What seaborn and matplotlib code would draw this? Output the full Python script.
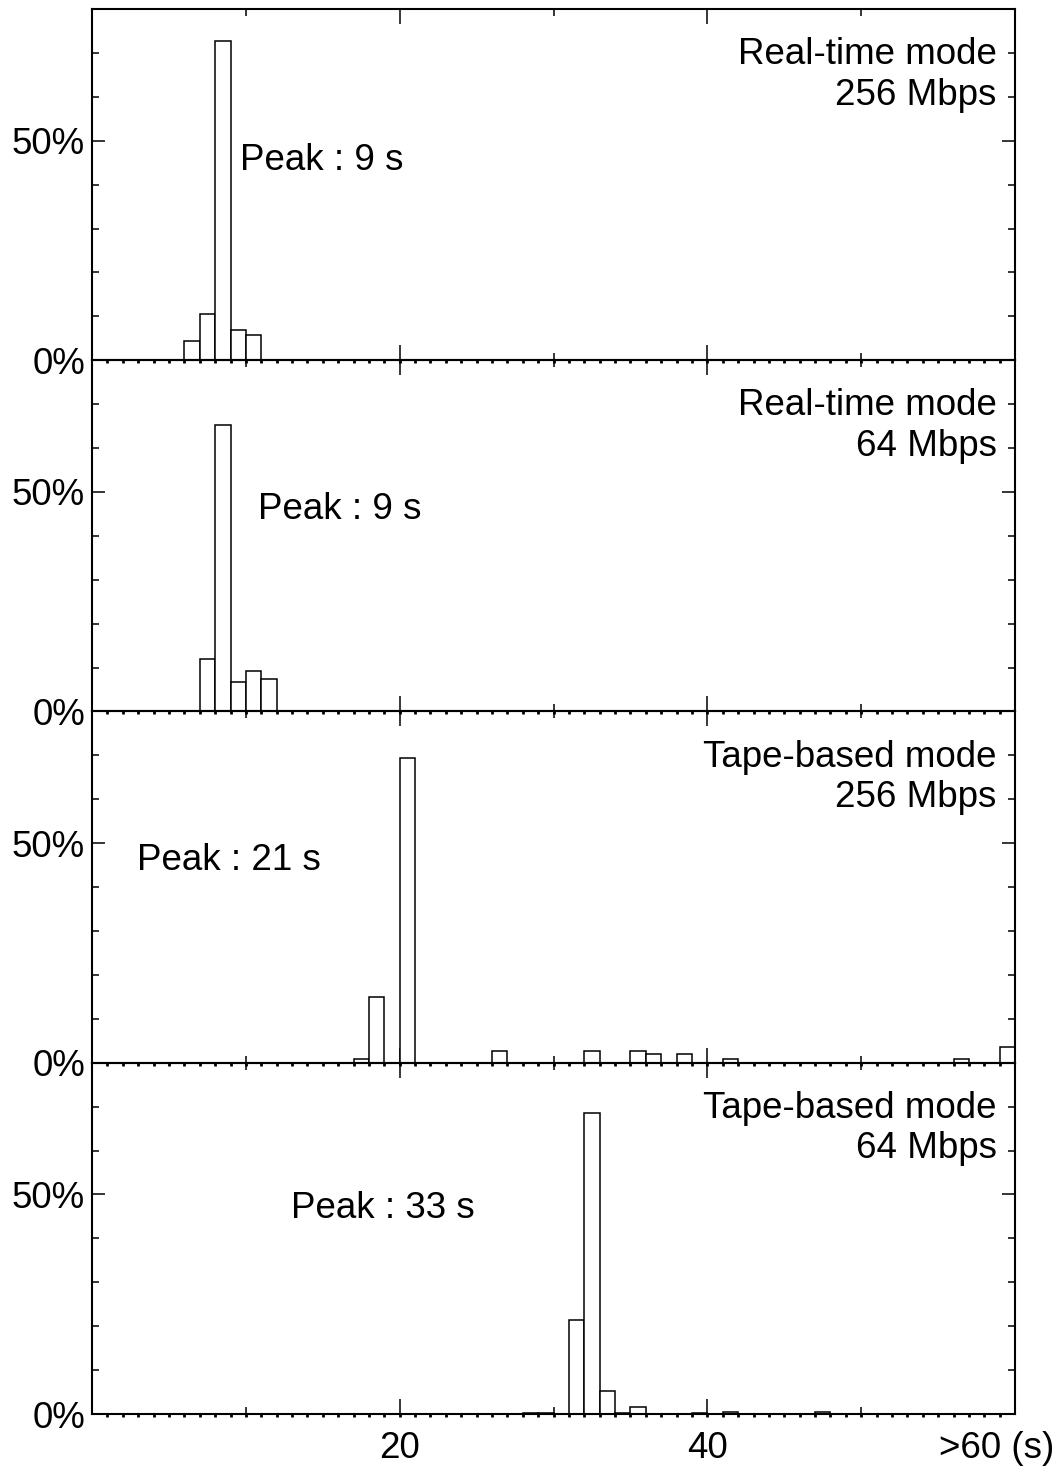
import numpy as np
import pandas as pd
import matplotlib
matplotlib.use("Agg")
import matplotlib.pyplot as plt
from matplotlib.transforms import ScaledTranslation
import seaborn as sns

# Histogram bins (left edge, seconds) and share of jobs (%) per panel
rt256_bins = [6, 7, 8, 9, 10]
rt256_pct = [4.3, 10.5, 72.8, 6.9, 5.8]

rt64_bins = [7, 8, 9, 10, 11]
rt64_pct = [12.0, 65.3, 6.8, 9.3, 7.4]

tape256_bins = [17, 18, 20, 26, 32, 35, 36, 38, 41, 56, 59]
tape256_pct = [0.8, 15.0, 69.3, 2.7, 2.7, 2.7, 1.9, 1.9, 0.8, 0.8, 3.6]

tape64_bins = [28, 29, 31, 32, 33, 34, 35, 39, 41, 47]
tape64_pct = [0.2, 0.2, 21.3, 68.6, 5.2, 0.3, 1.6, 0.3, 0.4, 0.4]

mode_labels = ["Real-time mode\n256 Mbps", "Real-time mode\n64 Mbps",
               "Tape-based mode\n256 Mbps", "Tape-based mode\n64 Mbps"]
peak_labels = ["Peak : 9 s", "Peak : 9 s", "Peak : 21 s", "Peak : 33 s"]
peak_pos = [(9.6, 45.4), (10.8, 45.9), (2.9, 46.1), (12.9, 46.9)]

x_tick_vals = [20, 40, 60]
x_tick_text = ["20", "40", ">60 (s)"]
y_tick_vals = [0, 50]
y_tick_text = ["0%", "50%"]

sns.set_theme(style="ticks")
plt.rcParams["font.family"] = ["Liberation Sans", "DejaVu Sans"]
plt.rcParams["text.color"] = "black"
plt.rcParams["xtick.color"] = "black"
plt.rcParams["ytick.color"] = "black"
plt.rcParams["axes.labelcolor"] = "black"
FS = 26.5

panels = [(rt256_bins, rt256_pct), (rt64_bins, rt64_pct),
          (tape256_bins, tape256_pct), (tape64_bins, tape64_pct)]

fig = plt.figure(figsize=(10.63, 14.72), dpi=100)
axes = fig.subplots(4, 1, sharex=True, gridspec_kw=dict(hspace=0))
fig.subplots_adjust(left=0.0866, right=0.9549, bottom=0.0394, top=0.9939)

for i, (ax, (bins, pct)) in enumerate(zip(axes, panels)):
    # transparent background so the baseline dots of the panel above stay visible
    ax.patch.set_visible(False)
    df = pd.DataFrame({"t": np.array(bins, dtype=float) + 0.5,
                       "pct": np.array(pct, dtype=float)})
    sns.histplot(data=df, x="t", weights="pct", binwidth=1, binrange=(0, 60),
                 ax=ax, color="white", edgecolor="black", linewidth=1.1,
                 alpha=1.0, legend=False)
    ax.set_xlim(0, 60)
    ax.set_ylim(0, 80)
    ax.set_xlabel("")
    ax.set_ylabel("")
    for sp in ax.spines.values():
        sp.set_visible(True)
        sp.set_linewidth(1.5)
        sp.set_color("black")

    # y axis: labelled at 0 and 50, small marks every 10 %
    ax.set_yticks(y_tick_vals)
    ax.set_yticklabels(y_tick_text)
    ax.set_yticks(np.arange(10, 80, 10), minor=True)
    ax.tick_params(axis="y", which="major", direction="in", length=9.5,
                   width=1.1, left=True, right=True, labelsize=FS, pad=5,
                   colors="black")
    ax.tick_params(axis="y", which="minor", direction="in", length=5,
                   width=1.1, left=True, right=True)

    # x axis: long marks at 20/40, short at 10/30/50
    ax.set_xticks(x_tick_vals)
    ax.set_xticks([10, 30, 50], minor=True)
    ax.tick_params(axis="x", which="major", direction="in", length=11,
                   width=1.1, top=True, bottom=True, labelsize=FS, pad=12,
                   colors="black")
    ax.tick_params(axis="x", which="minor", direction="in", length=5,
                   width=1.1, top=True, bottom=True)

    # one-second dots under the baseline
    sec = ax.secondary_xaxis("bottom")
    sec.set_xticks(np.arange(1, 60, 1))
    sec.tick_params(axis="x", direction="out", length=2.5, width=2.0,
                    labelbottom=False, colors="black")
    sec.spines["bottom"].set_visible(False)

    ax.text(58.8, 65, mode_labels[i], ha="right", va="center",
            multialignment="right", fontsize=FS, linespacing=1.2,
            color="black")
    px, py = peak_pos[i]
    ax.text(px, py, peak_labels[i], ha="left", va="center", fontsize=FS,
            color="black")

    if i < 3:
        ax.tick_params(axis="x", labelbottom=False)

bottom = axes[-1]
bottom.set_xticklabels(x_tick_text)
last = bottom.get_xticklabels()[-1]
last.set_transform(last.get_transform() +
                   ScaledTranslation(-0.18, 0, fig.dpi_scale_trans))

fig.savefig("out.png", dpi=100)
